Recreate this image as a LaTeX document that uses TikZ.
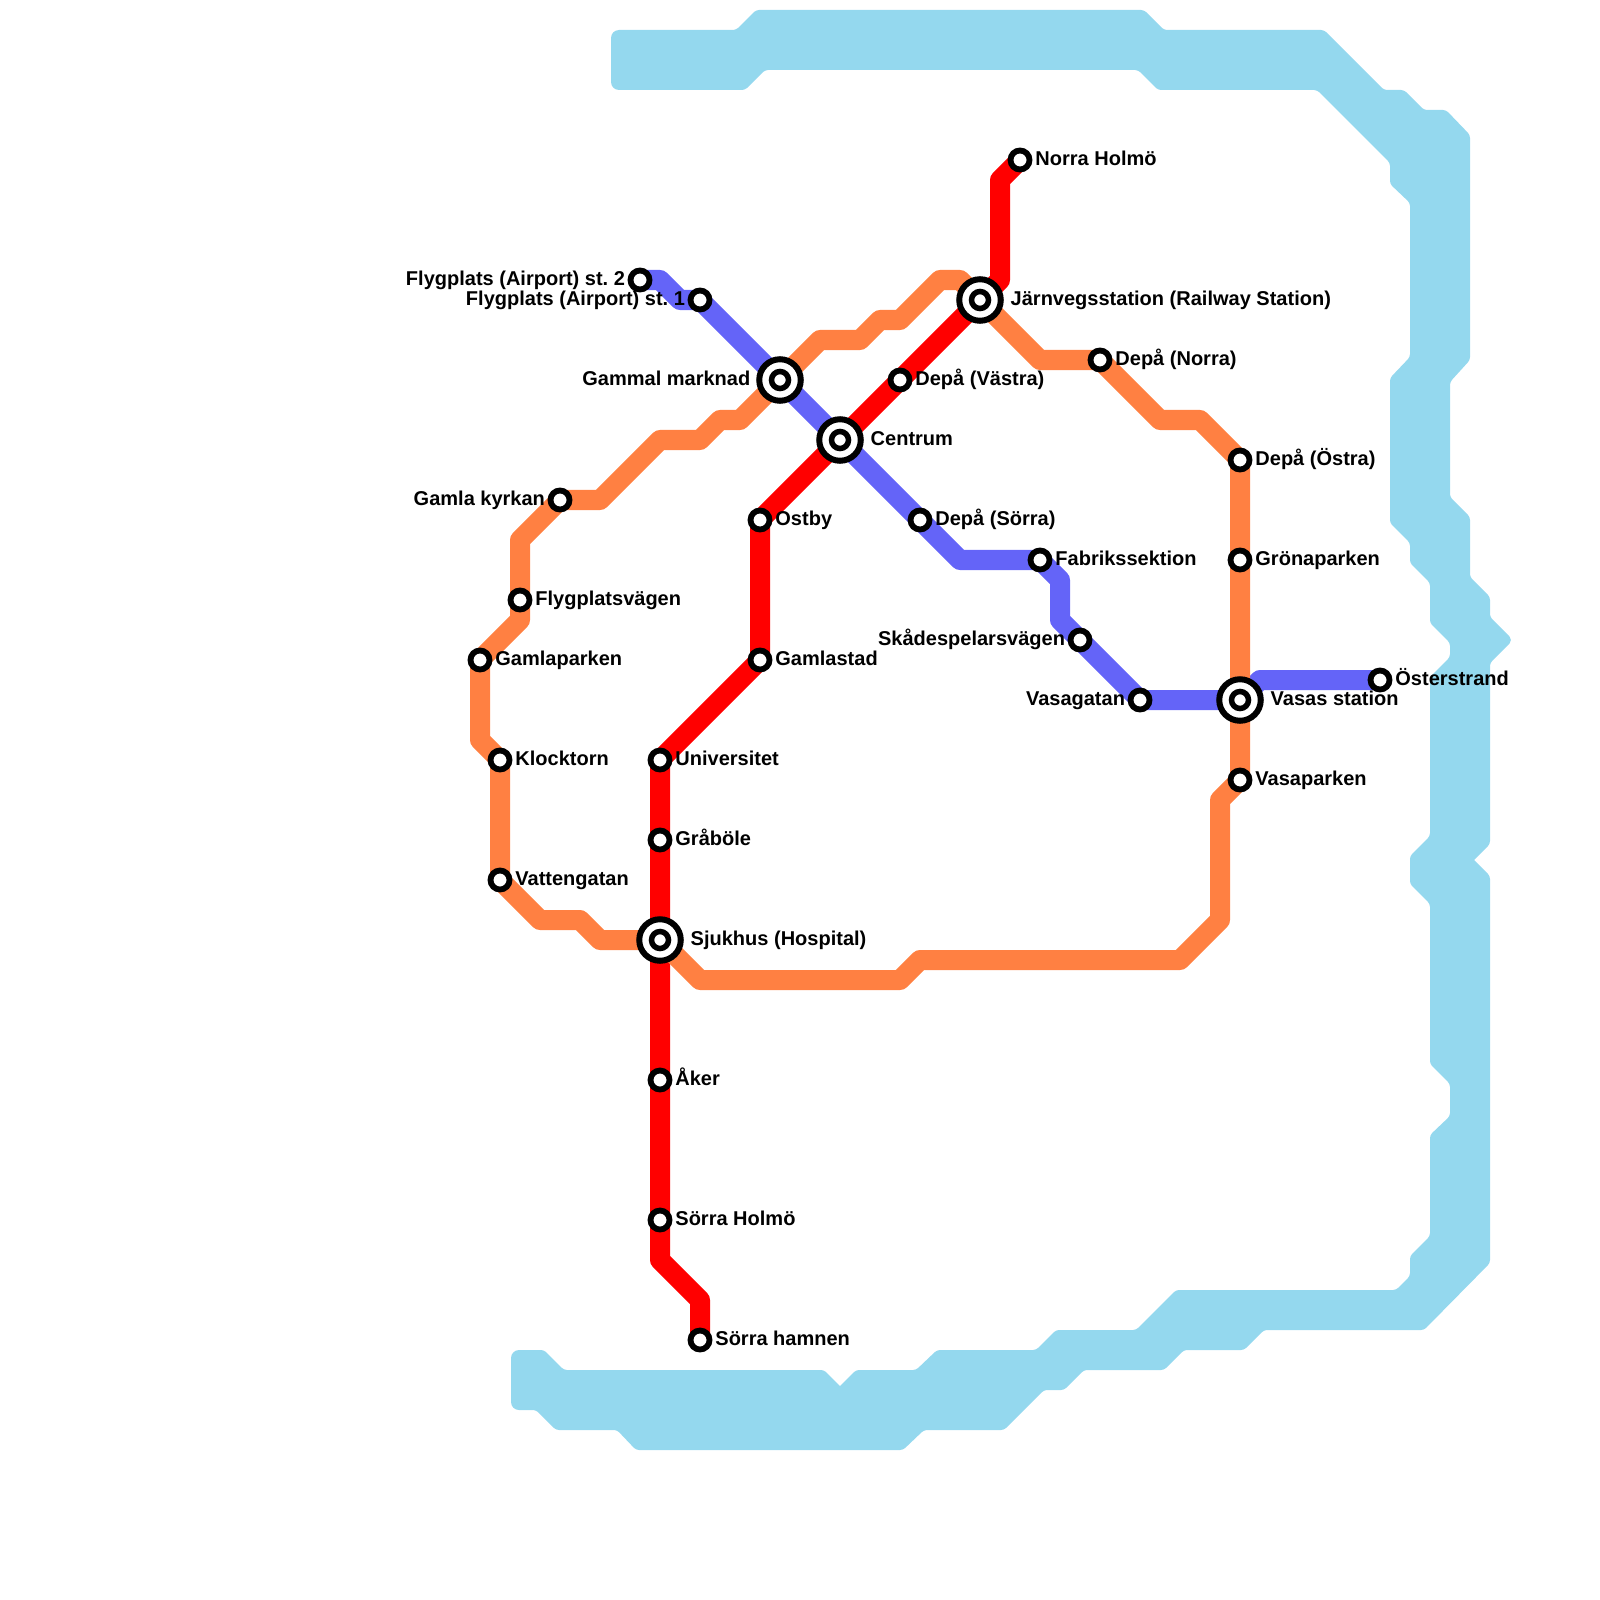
\documentclass[tikz,border=0pt]{standalone}
\usepackage{fontspec}
\setmainfont{Liberation Sans}
\usetikzlibrary{backgrounds}
\definecolor{MapWater}{RGB}{148,216,238}
\definecolor{MapRed}{RGB}{255,0,0}
\definecolor{MapBlue}{RGB}{100,100,248}
\definecolor{MapOrange}{RGB}{255,128,66}
\frenchspacing

\begin{document}
\begin{tikzpicture}[
      x=0.01cm, y=-0.01cm,
      stn/.style={circle, draw=black, fill=white, line width=0.058cm,
                  minimum size=0.19cm, inner sep=0pt, outer sep=0pt},
      hub/.style={circle, draw=black, fill=white, line width=0.06cm,
                  minimum size=0.415cm, inner sep=0pt, outer sep=0pt},
      hubin/.style={circle, draw=black, fill=white, line width=0.055cm,
                  minimum size=0.17cm, inner sep=0pt, outer sep=0pt},
      lbl/.style={inner sep=0pt, yshift=-0.052cm,
                  font=\fontsize{5.69}{6}\selectfont\bfseries},
      lblr/.style={lbl, anchor=base west, xshift=0.147cm},
      lbll/.style={lbl, anchor=base east, xshift=-0.143cm},
      hubr/.style={lbl, anchor=base west, xshift=0.30cm},
      hubl/.style={lbl, anchor=base east, xshift=-0.29cm},
      metro/.style={line width=0.2cm, line join=round, line cap=round}
    ]
    \useasboundingbox (0,0) rectangle (1600,1600);

    % Interchanges
    \foreach \n/\x/\y/\s/\t in {
        sjukhus/660/940/hubr/Sjukhus (Hospital),
        gammal/780/380/hubl/Gammal marknad,
        centrum/840/440/hubr/Centrum,
        jarnveg/980/300/hubr/Järnvegsstation (Railway Station),
        vasas/1240/700/hubr/Vasas station} {
      \node[hub] (\n) at (\x,\y) {};
      \node[hubin] (\n in) at (\x,\y) {};
      \node[\s] (t\n) at (\x,\y) {\t};
    }

    % Stations
    \foreach \n/\x/\y/\s/\t in {
        nholmo/1020/160/lblr/Norra Holmö,
        vastra/900/380/lblr/Depå (Västra),
        ostby/760/520/lblr/Ostby,
        gamlastad/760/660/lblr/Gamlastad,
        univ/660/760/lblr/Universitet,
        grabole/660/840/lblr/Gråböle,
        aker/660/1080/lblr/Åker,
        sholmo/660/1220/lblr/Sörra Holmö,
        shamn/700/1340/lblr/Sörra hamnen,
        flygb/640/280/lbll/Flygplats (Airport) st. 2,
        flyga/700/300/lbll/Flygplats (Airport) st. 1,
        sorra/920/520/lblr/Depå (Sörra),
        fabrik/1040/560/lblr/Fabrikssektion,
        skade/1080/640/lbll/Skådespelarsvägen,
        vasagatan/1140/700/lbll/Vasagatan,
        oster/1380/680/lblr/Österstrand,
        norra/1100/360/lblr/Depå (Norra),
        ostra/1240/460/lblr/Depå (Östra),
        grona/1240/560/lblr/Grönaparken,
        vasapark/1240/780/lblr/Vasaparken,
        gkyrka/560/500/lbll/Gamla kyrkan,
        flygv/520/600/lblr/Flygplatsvägen,
        gpark/480/660/lblr/Gamlaparken,
        klock/500/760/lblr/Klocktorn,
        vatten/500/880/lblr/Vattengatan} {
      \node[stn] (\n) at (\x,\y) {};
      \node[\s] (t\n) at (\x,\y) {\t};
    }

    \begin{scope}[on background layer]
      % Water
      \fill[MapWater, rounded corners=0.03cm]
        (611,30) -- (736,30) -- (756,10) -- (1144,10) -- (1164,30) -- (1324,30)
        -- (1384,90) -- (1404,90) -- (1424,110) -- (1446,110) -- (1470,135)
        -- (1470,360) -- (1450,382) -- (1450,497) -- (1470,517) -- (1470,577)
        -- (1490,597) -- (1490,617) [rounded corners=0.05cm] -- (1513,640)
        [rounded corners=0.03cm] -- (1490,663) -- (1490,844)
        [sharp corners] -- (1474,860) [rounded corners=0.03cm]
        -- (1490,876) -- (1490,1263) -- (1424,1330) -- (1264,1330)
        -- (1244,1350) -- (1184,1350) -- (1164,1370) -- (1084,1370) -- (1064,1390)
        -- (1044,1390) -- (1004,1430) -- (924,1430) -- (903,1450) -- (636,1450)
        -- (617,1430) -- (556,1430) -- (536,1410) [rounded corners=0.08cm]
        -- (511,1410) -- (511,1350) [rounded corners=0.03cm]
        -- (544,1350) -- (564,1370) -- (824,1370) [sharp corners] -- (840,1386)
        [rounded corners=0.03cm] -- (856,1370)
        -- (916,1370) -- (937,1350) -- (1036,1350) -- (1056,1330) -- (1136,1330)
        -- (1176,1290) -- (1396,1290) -- (1410,1276) -- (1410,1256) -- (1430,1236)
        -- (1430,1135) -- (1450,1116) -- (1450,1084) -- (1430,1064) -- (1430,904)
        -- (1410,884) -- (1410,856) -- (1430,836) -- (1430,677) -- (1450,657)
        -- (1450,643) -- (1430,623) -- (1430,583) -- (1410,563) -- (1410,543)
        -- (1390,523) -- (1390,378) -- (1410,357) -- (1410,203) -- (1390,184)
        -- (1390,163) -- (1317,90) -- (1158,90) -- (1138,70) -- (765,70)
        -- (745,90) [rounded corners=0.08cm] -- (611,90) -- cycle;

      % Red line
      \draw[metro, MapRed] (shamn.center) -- (700,1300) -- (660,1260)
        -- (sholmo.center) -- (aker.center) -- (sjukhus.center)
        -- (grabole.center) -- (univ.center) -- (gamlastad.center)
        -- (ostby.center) -- (centrum.center) -- (vastra.center)
        -- (jarnveg.center) -- (1000,280) -- (1000,180) -- (nholmo.center);

      % Blue line
      \draw[metro, MapBlue] (flygb.center) -- (660,280) -- (680,300)
        -- (flyga.center) -- (gammal.center) -- (centrum.center)
        -- (sorra.center) -- (960,560) -- (fabrik.center) -- (1060,580)
        -- (1060,620) -- (skade.center) -- (vasagatan.center) -- (vasas.center)
        -- (1260,680) -- (oster.center);

      % Orange line
      \draw[metro, MapOrange] (sjukhus.center) -- (700,980) -- (900,980)
        -- (920,960) -- (1180,960) -- (1220,920) -- (1220,800)
        -- (vasapark.center) -- (vasas.center) -- (grona.center)
        -- (ostra.center) -- (1200,420) -- (1160,420) -- (norra.center)
        -- (1040,360) -- (jarnveg.center) -- (960,280) -- (940,280)
        -- (900,320) -- (880,320) -- (860,340) -- (820,340)
        -- (gammal.center) -- (740,420) -- (720,420) -- (700,440)
        -- (660,440) -- (600,500) -- (gkyrka.center) -- (520,540)
        -- (flygv.center) -- (520,620) -- (gpark.center) -- (480,740)
        -- (klock.center) -- (vatten.center) -- (540,920) -- (580,920)
        -- (600,940) -- (sjukhus.center);
    \end{scope}
  \end{tikzpicture}
\end{document}
